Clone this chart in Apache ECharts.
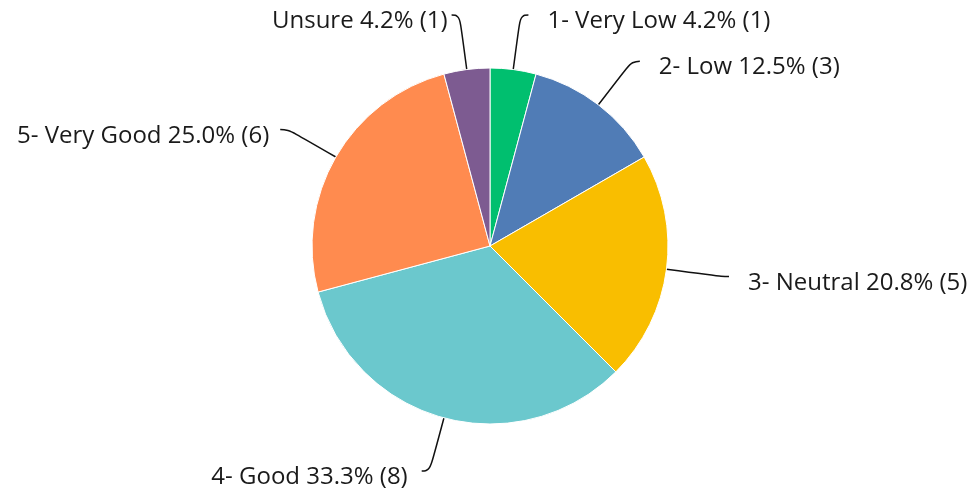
<!DOCTYPE html>
<html>
<head>
<meta charset="utf-8">
<script src="https://cdn.jsdelivr.net/npm/echarts@6/dist/echarts.min.js"></script>
<style>
  html, body { margin: 0; padding: 0; background: #fff; }
  #main { width: 976px; height: 494px; }
</style>
</head>
<body>
<div id="main"></div>
<script>
// categories and counts, clockwise from 12 o'clock
var categories = ["1- Very Low", "2- Low", "3- Neutral", "4- Good", "5- Very Good", "Unsure"];
var counts = [1, 3, 5, 8, 6, 1];
var colors = ["#00BF6F", "#507CB6", "#F9BE00", "#6BC8CD", "#FF8B4F", "#7D5B91"];

// gap between the end of a label line and its text (left-side labels sit closer)
var labelGap = { "4- Good": 14, "5- Very Good": 11, "Unsure": 4 };

var myChart = echarts.init(document.getElementById("main"));
var option = {
  animation: false,
  color: colors,
  series: [
    {
      type: "pie",
      center: [490, 246],
      radius: 178,
      startAngle: 90,
      clockwise: true,
      avoidLabelOverlap: true,
      bleedMargin: 2,
      itemStyle: {
        borderColor: "#fff",
        borderWidth: 1,
      },
      label: {
        color: "#1a1a1a",
        fontFamily: "Open Sans",
        fontSize: 24,
        overflow: "none",
        distanceToLabelLine: 19,
        formatter: function (p) {
          return "{t|" + p.name + " " + p.percent.toFixed(1) + "% (" + p.value + ")}";
        },
        rich: {
          t: {
            color: "#1a1a1a",
            fontFamily: "Open Sans",
            fontSize: 24,
            padding: [13, 0, 0, 0],
          },
        },
      },
      labelLine: {
        show: true,
        smooth: 0.5,
        length: 55,
        length2: 8,
        lineStyle: { color: "#111", width: 1.5 },
      },
      data: categories.map(function (c, i) {
        var d = { name: c, value: counts[i] };
        if (labelGap[c] != null) d.label = { distanceToLabelLine: labelGap[c] };
        return d;
      }),
    },
  ],
};
myChart.setOption(option);
</script>
</body>
</html>
